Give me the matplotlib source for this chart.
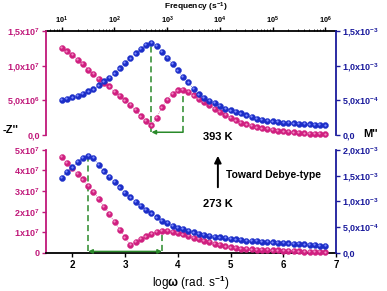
import numpy as np
import matplotlib
matplotlib.use('Agg')
import matplotlib.pyplot as plt
from matplotlib.ticker import FixedLocator, LogLocator, LogFormatterMathtext, NullFormatter
from matplotlib.transforms import offset_copy
from matplotlib.patches import FancyArrowPatch

plt.rcParams['font.family'] = ['Liberation Sans', 'DejaVu Sans']
plt.rcParams['font.weight'] = 'bold'
plt.rcParams['mathtext.fontset'] = 'custom'
plt.rcParams['mathtext.rm'] = 'Liberation Sans:bold'
plt.rcParams['mathtext.default'] = 'rm'

# ---------------- data ----------------
logw = np.round(np.arange(1.8, 6.81, 0.1), 2)
# 393 K : -Z'' in 1e7 ohm, M'' in 1e-3
z_393 = [1.26, 1.205, 1.15, 1.08, 1.02, 0.94, 0.876, 0.81, 0.75, 0.70,
         0.62, 0.567, 0.50, 0.433, 0.36, 0.27, 0.20, 0.14, 0.25, 0.40,
         0.51, 0.59, 0.645, 0.65, 0.62, 0.57, 0.52, 0.48, 0.43, 0.38,
         0.33, 0.29, 0.25, 0.21, 0.18, 0.155, 0.13, 0.11, 0.095, 0.085,
         0.072, 0.062, 0.052, 0.045, 0.037, 0.031, 0.026, 0.021, 0.017, 0.013,
         0.01]
m_393 = [0.51, 0.524, 0.543, 0.567, 0.59, 0.629, 0.657, 0.714, 0.771, 0.819,
         0.886, 0.962, 1.038, 1.105, 1.176, 1.238, 1.295, 1.33, 1.28, 1.20,
         1.11, 1.02, 0.93, 0.84, 0.76, 0.66, 0.585, 0.535, 0.49, 0.46,
         0.42, 0.38, 0.355, 0.33, 0.31, 0.285, 0.26, 0.235, 0.22, 0.205,
         0.195, 0.185, 0.178, 0.172, 0.167, 0.162, 0.157, 0.152, 0.148, 0.143,
         0.138]
# 273 K : -Z'' in 1e7 ohm, M'' in 1e-3
z_273 = [4.65, 4.38, 4.10, 3.83, 3.57, 3.25, 2.95, 2.62, 2.25, 1.88,
         1.50, 1.13, 0.75, 0.40, 0.55, 0.67, 0.80, 0.92, 1.02, 1.07,
         1.06, 1.02, 0.97, 0.90, 0.82, 0.74, 0.67, 0.60, 0.52, 0.45,
         0.38, 0.32, 0.27, 0.23, 0.21, 0.19, 0.175, 0.16, 0.15, 0.14,
         0.13, 0.12, 0.11, 0.10, 0.085, 0.07, 0.06, 0.05, 0.04, 0.035,
         0.03]
m_273 = [1.46, 1.57, 1.66, 1.77, 1.85, 1.88, 1.84, 1.71, 1.58, 1.47,
         1.38, 1.27, 1.16, 1.08, 0.99, 0.91, 0.83, 0.77, 0.69, 0.62,
         0.58, 0.53, 0.49, 0.46, 0.43, 0.40, 0.37, 0.35, 0.33, 0.31,
         0.30, 0.285, 0.27, 0.26, 0.25, 0.24, 0.235, 0.23, 0.22, 0.21,
         0.205, 0.20, 0.19, 0.185, 0.18, 0.173, 0.165, 0.158, 0.15, 0.143,
         0.136]

freq_ticks = [1e1, 1e2, 1e3, 1e4, 1e5, 1e6]
top_z_ticks = [0, 0.5, 1.0, 1.5]
top_z_labels = ['0,0', r'5,0x10$^{6}$', r'1,0x10$^{7}$', r'1,5x10$^{7}$']
top_m_ticks = [0, 0.5, 1.0, 1.5]
top_m_labels = ['0,0', r'5,0x10$^{-4}$', r'1,0x10$^{-3}$', r'1,5x10$^{-3}$']
bot_z_ticks = [0, 1, 2, 3, 4, 5]
bot_z_labels = ['0', r'1x10$^{7}$', r'2x10$^{7}$', r'3x10$^{7}$', r'4x10$^{7}$', r'5x10$^{7}$']
bot_m_ticks = [0, 0.5, 1.0, 1.5, 2.0]
bot_m_labels = ['0,0', r'5,0x10$^{-4}$', r'1,0x10$^{-3}$', r'1,5x10$^{-3}$', r'2,0x10$^{-3}$']

PINK = '#d02080'
PINK_L = '#f28cc4'
BLUE = '#1c2ec8'
BLUE_L = '#7f8cff'
ZCOL = '#c0187a'
MCOL = '#1a1a9c'
GREEN = '#2a8a2a'

fig = plt.figure(figsize=(3.87, 2.91), dpi=100)


def balls(ax, x, y, c, cl):
    ax.plot(x, y, ':', color=c, lw=0.5, zorder=2)
    ax.plot(x, y, 'o', ms=4.3, mfc=c, mec=c, mew=0.3, zorder=3, clip_on=False)
    tr = offset_copy(ax.transData, fig=fig, x=-0.7, y=0.7, units='dots')
    ax.plot(x, y, 'o', ms=1.6, mfc=cl, mec='none', zorder=4, clip_on=False,
            transform=tr)


def style(axz, axm, zt, zl, mt, ml, zmax, mmax):
    axz.set_xlim(1.5, 7.0)
    axz.set_ylim(0, zmax)
    axm.set_ylim(0, mmax)
    axz.set_yticks(zt)
    axz.set_yticklabels(zl)
    axm.set_yticks(mt)
    axm.set_yticklabels(ml)
    axz.tick_params(axis='y', colors=ZCOL, labelsize=6.5, length=3, width=1, pad=1.5)
    axm.tick_params(axis='y', colors=MCOL, labelsize=6.5, length=3, width=1, pad=1.5)
    for s in ['top', 'right']:
        axz.spines[s].set_visible(False)
    for s in ['top', 'left', 'bottom']:
        axm.spines[s].set_visible(False)
    axz.spines['left'].set_color(ZCOL)
    axz.spines['left'].set_linewidth(1.3)
    axm.spines['right'].set_color(MCOL)
    axm.spines['right'].set_linewidth(1.3)
    axz.patch.set_visible(False)
    axm.patch.set_visible(False)


# ---------------- top panel : 393 K ----------------
ax1 = fig.add_axes([0.119, 0.536, 0.749, 0.358])
ax2 = ax1.twinx()
style(ax1, ax2, top_z_ticks, top_z_labels, top_m_ticks, top_m_labels, 1.5, 1.5)
ax1.spines['bottom'].set_visible(False)
ax1.tick_params(axis='x', bottom=False, labelbottom=False)
balls(ax1, logw, z_393, PINK, PINK_L)
balls(ax2, logw, m_393, BLUE, BLUE_L)

twopi = 2 * np.pi
sec = ax1.secondary_xaxis('top', functions=(lambda w: 10 ** w / twopi,
                                             lambda f: np.log10(np.clip(f, 1e-12, None) * twopi)))
sec.xaxis.set_major_locator(FixedLocator(freq_ticks))
sec.xaxis.set_major_formatter(LogFormatterMathtext())
sec.xaxis.set_minor_locator(LogLocator(base=10, subs=np.arange(2, 10)))
sec.xaxis.set_minor_formatter(NullFormatter())
sec.tick_params(which='major', length=2.8, width=1, labelsize=5.3, pad=0.5)
sec.tick_params(which='minor', length=1.6, width=0.6)
sec.spines['top'].set_linewidth(1.3)

# green guide lines (393 K)
i_m = int(np.argmax(m_393))
i_zmin = int(np.argmin(z_393[:30]))
i_z = i_zmin + int(np.argmax(z_393[i_zmin:30]))
w_m, w_z = logw[i_m], logw[i_z]
base = 0.04
ax1.plot([w_m, w_m], [base, m_393[i_m] / 1.5 * 1.5], '--', color=GREEN, lw=1.1, dashes=(4, 2.5))
ax1.plot([w_z, w_z], [base, z_393[i_z]], '--', color=GREEN, lw=1.1, dashes=(4, 2.5))
ax1.annotate('', xy=(w_m, base), xytext=(w_z, base),
             arrowprops=dict(arrowstyle='-|>', color=GREEN, lw=1.1,
                             mutation_scale=6, shrinkA=0, shrinkB=0))

# ---------------- bottom panel : 273 K ----------------
ax3 = fig.add_axes([0.119, 0.131, 0.749, 0.354])
ax4 = ax3.twinx()
style(ax3, ax4, bot_z_ticks, bot_z_labels, bot_m_ticks, bot_m_labels, 5, 2.0)
ax3.set_xticks([2, 3, 4, 5, 6, 7])
ax3.tick_params(axis='x', labelsize=7, length=3, width=1, pad=2)
ax3.spines['bottom'].set_linewidth(1.3)
balls(ax3, logw, z_273, PINK, PINK_L)
balls(ax4, logw, m_273, BLUE, BLUE_L)

j_m = int(np.argmax(m_273))
j_zmin = int(np.argmin(z_273[:25]))
j_z = j_zmin + int(np.argmax(z_273[j_zmin:30]))
v_m, v_z = logw[j_m], logw[j_z]
base2 = 0.07
ax3.plot([v_m, v_m], [base2, m_273[j_m] / 2.0 * 5], '--', color=GREEN, lw=1.1, dashes=(4, 2.5))
ax3.plot([v_z, v_z], [base2, z_273[j_z]], '--', color=GREEN, lw=1.1, dashes=(4, 2.5))
ax3.annotate('', xy=(v_m, base2), xytext=(v_z, base2),
             arrowprops=dict(arrowstyle='<|-|>', color=GREEN, lw=1.1,
                             mutation_scale=6, shrinkA=0, shrinkB=0))

# ---------------- labels ----------------
ax3.set_xlabel(r'log$\omega$ (rad. s$^{-1}$)', fontsize=8.5, labelpad=3)
fig.text(0.506, 0.997, r'Frequency (s$^{-1}$)', ha='center', va='top', fontsize=6)
fig.text(0.028, 0.553, "-Z''", ha='center', va='center', fontsize=8)
fig.text(0.958, 0.540, "M''", ha='center', va='center', fontsize=8)
fig.text(0.563, 0.529, '393 K', ha='center', va='center', fontsize=8)
fig.text(0.563, 0.299, '273 K', ha='center', va='center', fontsize=8)
fig.text(0.584, 0.399, 'Toward Debye-type', ha='left', va='center', fontsize=7.5)
fig.patches.append(FancyArrowPatch(
    (0.563, 0.347), (0.563, 0.474), transform=fig.transFigure,
    arrowstyle='-|>', mutation_scale=10, lw=1.4, color='black'))

fig.savefig('out.png', dpi=100)
